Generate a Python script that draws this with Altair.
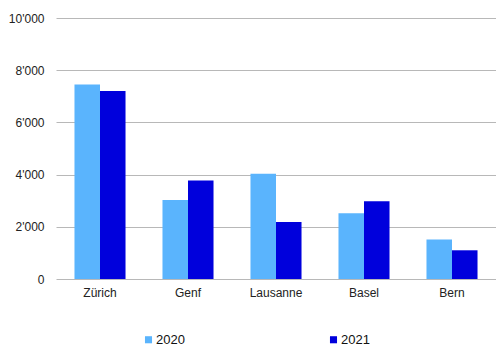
import altair as alt
import pandas as pd

cities = ["Zürich", "Genf", "Lausanne", "Basel", "Bern"]
values_2020 = [7450, 3030, 4030, 2520, 1510]
values_2021 = [7200, 3770, 2180, 2980, 1100]
years = ["2020", "2021"]
colors = ["#5ab4fd", "#0000dc"]

rows = []
for city, a, b in zip(cities, values_2020, values_2021):
    rows.append({"Stadt": city, "Jahr": years[0], "Wert": a})
    rows.append({"Stadt": city, "Jahr": years[1], "Wert": b})
df = pd.DataFrame(rows)

font = "Liberation Sans"

chart = (
    alt.Chart(df)
    .mark_bar()
    .encode(
        x=alt.X(
            "Stadt:N",
            sort=cities,
            title=None,
            scale=alt.Scale(paddingInner=0.42, paddingOuter=0.21),
            axis=alt.Axis(
                labelAngle=0,
                ticks=False,
                domain=False,
                labelPadding=8,
                labelFontSize=12,
                labelColor="#222222",
                labelFont=font,
            ),
        ),
        xOffset=alt.XOffset("Jahr:N", sort=years),
        y=alt.Y(
            "Wert:Q",
            title=None,
            scale=alt.Scale(domain=[0, 10000]),
            axis=alt.Axis(
                values=[0, 2000, 4000, 6000, 8000, 10000],
                labelExpr="replace(format(datum.value, ','), ',', \"'\")",
                ticks=False,
                domain=False,
                labelPadding=12,
                labelFontSize=12,
                labelColor="#222222",
                labelFont=font,
                gridColor="#b8b8b8",
                gridWidth=1,
            ),
        ),
        color=alt.Color(
            "Jahr:N",
            sort=years,
            scale=alt.Scale(domain=years, range=colors),
            legend=alt.Legend(
                title=None,
                orient="none",
                direction="horizontal",
                legendX=86,
                legendY=54 + 261,
                symbolType="square",
                symbolSize=50,
                symbolStrokeWidth=0,
                symbolOffset=0,
                labelOffset=1,
                columnPadding=142,
                labelFontSize=13,
                labelFont=font,
                labelColor="#111111",
            ),
        ),
    )
    .properties(width=440, height=261)
    .configure_view(stroke=None)
    .properties(
        autosize=alt.AutoSizeParams(type="none"),
        padding={"left": 56, "top": 18, "right": 0, "bottom": 68},
    )
)

chart.save("out.html", embed_options={"renderer": "svg", "actions": False})
